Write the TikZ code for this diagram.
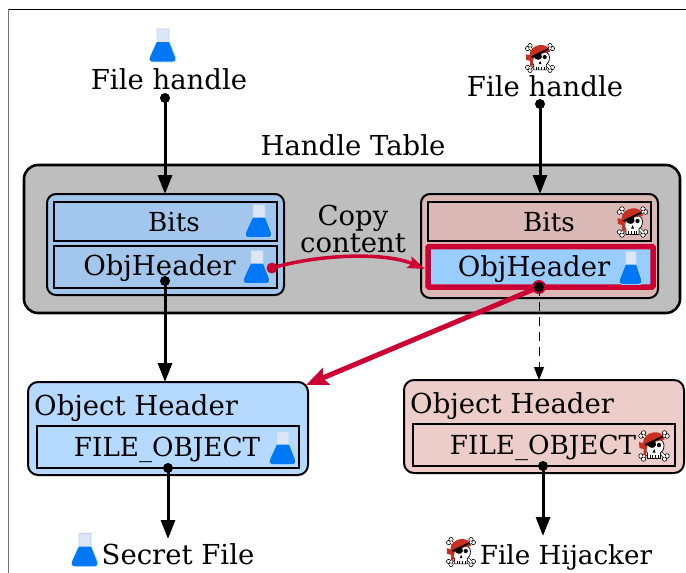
\documentclass[tikz,border=0pt]{standalone}
\usepackage{fontspec}
\setmainfont{DejaVu Serif}
\usetikzlibrary{arrows.meta}
\definecolor{crim}{HTML}{CC0033}
\definecolor{tablegray}{HTML}{BEBEBE}
\definecolor{goodcell}{HTML}{A3C7EC}
\definecolor{badcell}{HTML}{D9B8B6}
\definecolor{lightblue}{HTML}{B5D9FF}
\definecolor{lightred}{HTML}{ECCDC9}
\definecolor{hdrblue}{HTML}{99CCFF}
\definecolor{flaskblue}{HTML}{0078F5}
\definecolor{flaskglass}{HTML}{DCE6F5}
\definecolor{bandana}{HTML}{C93022}
\tikzset{
  x=1pt,y=-1pt,
  lbl/.style={font=\fontsize{27.5}{30}\selectfont,anchor=base,inner sep=0pt,text=black},
  lblsmall/.style={lbl,font=\fontsize{26.2}{30}\selectfont},
  outerbox/.style={draw=black,line width=2.6pt,rounded corners=14pt,fill=tablegray},
  groupbox/.style={draw=black,line width=2pt,rounded corners=9pt},
  cellbox/.style={draw=black,line width=2pt},
  objbox/.style={draw=black,line width=2pt,rounded corners=10pt},
  flow/.style={line width=3pt,-{Triangle[length=19pt,width=14pt]}},
  dotnode/.style={circle,fill=black,inner sep=0pt,minimum size=10pt},
  reddot/.style={circle,fill=crim,inner sep=0pt,minimum size=11pt},
  pics/flask/.style={code={
    \fill[flaskglass,draw=white!70!flaskblue,line width=.6pt] (-6,-16.5) -- (6,-16.5) -- (6,-4) -- (13,12) .. controls (14,15) and (12,16.5) .. (10,16.5) -- (-10,16.5) .. controls (-12,16.5) and (-14,15) .. (-13,12) -- (-6,-4) -- cycle;
    \fill[flaskblue] (-6,-3.5) -- (6,-3.5) -- (11.5,10.5) .. controls (13,14.5) and (12,16) .. (9,16) -- (-10,16) .. controls (-13,16) and (-14,14.5) .. (-12.5,10.5) -- cycle;
  }},
  pics/pirate/.style={code={
    \begin{scope}[line width=.5pt]
    \draw[black,fill=white,line width=.6pt] (-13,-10) circle (2.3) (-10.5,-13) circle (2.3) (13,-10) circle (2.3) (10.5,-13) circle (2.3) (-13,10) circle (2.3) (-10.5,13) circle (2.3) (13,10) circle (2.3) (10.5,13) circle (2.3);
    \draw[black,line width=3pt] (-11,-11)--(11,11) (11,-11)--(-11,11);
    \draw[white,line width=1.8pt] (-11,-11)--(11,11) (11,-11)--(-11,11);
    \fill[white,draw=black,line width=.7pt] (-10,-1) .. controls (-10,-10) and (10,-10) .. (10,-1) .. controls (10,4) and (8,6) .. (6.5,7) -- (6.5,12.5) -- (-6.5,12.5) -- (-6.5,7) .. controls (-8,6) and (-10,4) .. (-10,-1) -- cycle;
    \fill[bandana] (-11,-3) .. controls (-11,-15) and (9,-18) .. (10.5,-6.5) -- (-4,-3) -- (-7,1) -- (-8,11) -- (-10.5,8) -- (-10.5,3) -- (-14.5,2) -- (-15,-4) -- cycle;
    \draw[black,line width=1.8pt] (-9,-1) -- (9,-9.5);
    \fill[black] (-7,-2) -- (1,-6) -- (2,-1) .. controls (1,3) and (-5,3) .. (-7,-2) -- cycle;
    \fill[black] (5,-1) circle (2.2) (-1.5,6.5) -- (1.5,6.5) -- (0.3,3) -- cycle;
    \draw[black,line width=.6pt] (-4,9) -- (-4,12.5) (-1.5,9) -- (-1.5,12.5) (1.5,9) -- (1.5,12.5) (4,9) -- (4,12.5);
    \end{scope}
  }}
}
\begin{document}
\begin{tikzpicture}
\useasboundingbox (0,0) rectangle (686,573);
% frame
\draw[black!55,line width=1.3pt] (8.5,9) -- (8.5,573);
\draw[black,line width=1pt] (8.5,9) -- (686,9);
% table
\node[lbl] (tabletitle) at (353,155) {Handle Table};
\path[outerbox] (24,165) rectangle (680,313);
% left group
\path[groupbox,fill=goodcell] (47,194) rectangle (284,295);
\coordinate (leftgroup) at (165,194);
\path[cellbox,fill=goodcell] (53.5,201.5) rectangle (277,241);
\path[cellbox,fill=goodcell] (53.5,246) rectangle (277,288);
% right group
\path[groupbox,fill=badcell] (421,194) rectangle (658,298);
\coordinate (rightgroup) at (540,194);
\path[cellbox,fill=badcell] (428,201.5) rectangle (651,241);
\path[draw=crim,line width=5.5pt,fill=hdrblue,rounded corners=1pt] (428,246.5) rectangle (653,287);
\coordinate (copyin) at (425,269);
% object headers
\path[objbox,fill=lightblue] (28,382) rectangle (308,475);
\path[cellbox] (36.5,425.5) rectangle (299,468);
\path[objbox,fill=lightred] (404,380) rectangle (684,473);
\path[cellbox] (412.5,423.5) rectangle (675,466);
\coordinate (leftobjtop) at (165,382);
\coordinate (leftobjcorner) at (306,385);
\coordinate (rightobjtop) at (539,380);
% labels
\node[lbl] (fh1) at (169,89) {File handle};
\node[lbl] (fh2) at (545,96) {File handle};
\node[lbl] at (353,225) (copy1) {Copy};
\node[lbl] at (353,252) (copy2) {content};
\node[lblsmall] (bits1) at (174,231) {Bits};
\node[lbl] (hdr1) at (159.5,275) {ObjHeader};
\node[lblsmall] (bits2) at (549,231) {Bits};
\node[lbl] (hdr2) at (534,276) {ObjHeader};
\node[lbl,anchor=base west] (oh1) at (34,415) {Object Header};
\node[lbl,anchor=base west] (oh2) at (410,413) {Object Header};
\node[lblsmall] (fo1) at (167,456) {FILE\_OBJECT};
\node[lblsmall] (fo2) at (543,454) {FILE\_OBJECT};
\node[lbl] (secret) at (178,564) {Secret File};
\node[lblsmall] (hijack) at (566,564) {File Hijacker};
% icons
\pic at (163,45.5) {flask};
\pic at (259,221) {flask};
\pic at (257,267) {flask};
\pic[xscale=.85] at (631,268) {flask};
\pic at (283,448) {flask};
\pic at (85,550) {flask};
\pic[scale=.95] at (540,58) {pirate};
\pic at (632.5,222) {pirate};
\pic at (654,446) {pirate};
\pic[scale=.95] at (461,552) {pirate};
% endpoints
\node[dotnode] (d1) at (165,98) {};
\node[dotnode] (d2) at (540,104) {};
\node[dotnode] (d3) at (165,281) {};
\node[reddot,minimum size=14pt] (d4r) at (539,287) {};
\node[reddot] (d5) at (272,268) {};
\node[dotnode] (d6) at (168,468) {};
\node[dotnode] (d7) at (543,466) {};
\coordinate (end1) at (168,539);
\coordinate (end2) at (543,536);
% connectors
\draw[flow] (d1.center) -- (leftgroup);
\draw[flow] (d2.center) -- (rightgroup);
\draw[flow] (d3.center) -- (leftobjtop);
\draw[flow] (d6.center) -- (end1);
\draw[flow] (d7.center) -- (end2);
\draw[line width=1pt,dash pattern=on 9pt off 6pt,-{Triangle[length=13pt,width=10pt]}] (d4r.center) -- (rightobjtop);
\draw[crim,line width=5pt,-{Stealth[length=22pt,width=18pt,inset=4pt]}] (d4r.center) -- (leftobjcorner);
\draw[crim,line width=3.5pt,-{Stealth[length=17pt,width=12pt,inset=3pt]}] (d5.center) .. controls (320,254) and (385,252) .. (copyin);
\node[dotnode] (d4) at (539,287) {};
\end{tikzpicture}
\end{document}
